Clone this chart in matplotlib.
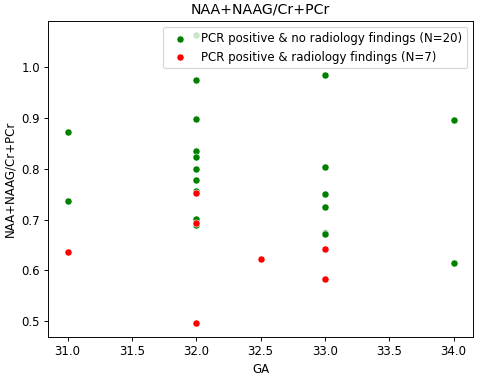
import matplotlib
matplotlib.use("Agg")
import matplotlib.pyplot as plt
import seaborn as sns

# PCR positive & no radiology findings
ga_no = [31.0, 31.0,
         32.0, 32.0, 32.0, 32.0, 32.0, 32.0, 32.0, 32.0, 32.0, 32.0,
         33.0, 33.0, 33.0, 33.0, 33.0, 33.0,
         34.0, 34.0]
naa_no = [0.872, 0.736,
          1.063, 0.976, 0.899, 0.836, 0.824, 0.800, 0.778, 0.757, 0.701, 0.690,
          0.984, 0.804, 0.750, 0.724, 0.674, 0.671,
          0.897, 0.615]

# PCR positive & radiology findings
ga_rad = [31.0, 32.0, 32.0, 32.0, 32.5, 33.0, 33.0]
naa_rad = [0.636, 0.752, 0.694, 0.497, 0.623, 0.641, 0.582]

DPI = 85
fig, ax = plt.subplots(figsize=(483 / DPI, 376 / DPI), dpi=DPI)

sns.scatterplot(x=ga_no, y=naa_no, color='green', ax=ax,
                label='PCR positive & no radiology findings (N=20)')
sns.scatterplot(x=ga_rad, y=naa_rad, color='red', ax=ax,
                label='PCR positive & radiology findings (N=7)')

ax.set_title('NAA+NAAG/Cr+PCr')
ax.set_xlabel('GA')
ax.set_ylabel('NAA+NAAG/Cr+PCr')
ax.legend(loc='upper right')

plt.subplots_adjust(left=0.100, right=0.979, top=0.944, bottom=0.104)
plt.savefig('out.png', dpi=DPI)
